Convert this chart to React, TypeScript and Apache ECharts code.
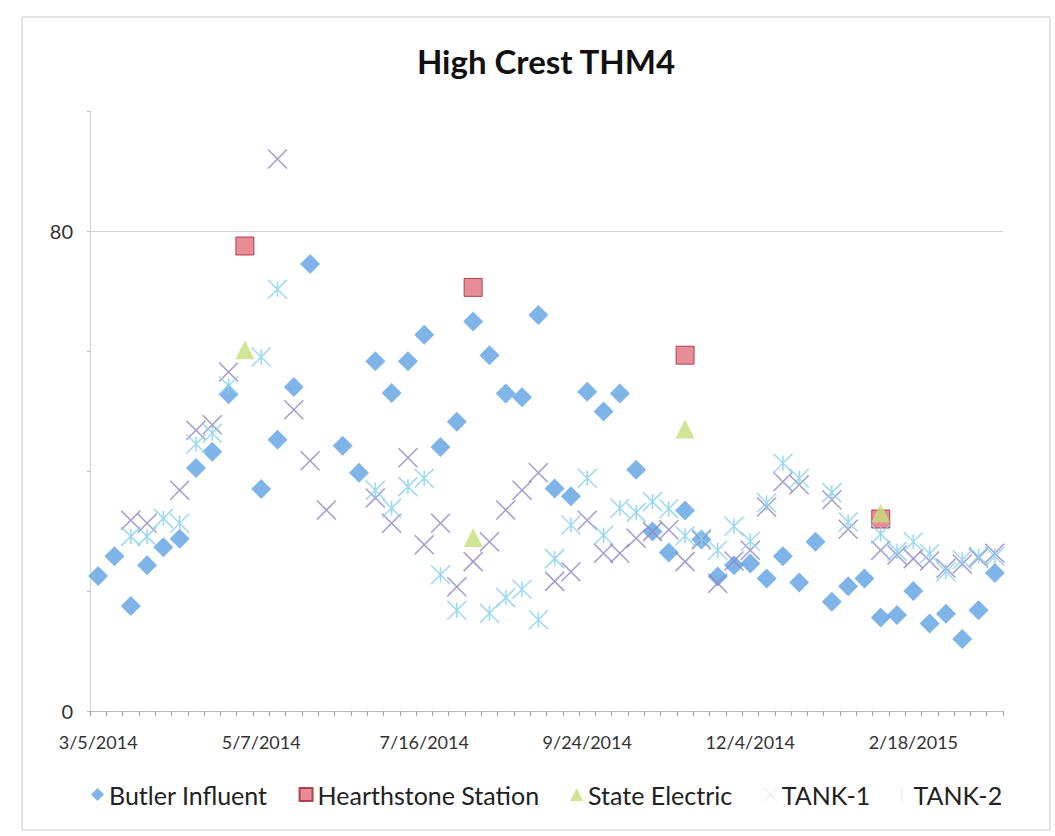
import React, { useEffect, useRef } from "react";
import * as echarts from "echarts";

const categories = [
  "3/5/2014", "3/12/2014", "3/19/2014", "3/26/2014", "4/2/2014", "4/9/2014", "4/16/2014", "4/23/2014", "4/30/2014", "5/5/2014",
  "5/7/2014", "5/14/2014", "5/21/2014", "5/28/2014", "6/4/2014", "6/11/2014", "6/18/2014", "6/25/2014", "7/2/2014", "7/9/2014",
  "7/16/2014", "7/23/2014", "7/30/2014", "8/6/2014", "8/13/2014", "8/20/2014", "8/27/2014", "9/3/2014", "9/10/2014", "9/17/2014",
  "9/24/2014", "10/1/2014", "10/8/2014", "10/15/2014", "10/22/2014", "10/29/2014", "11/5/2014", "11/12/2014", "11/19/2014", "11/26/2014",
  "12/4/2014", "12/11/2014", "12/18/2014", "12/24/2014", "12/31/2014", "1/7/2015", "1/14/2015", "1/21/2015", "1/28/2015", "2/11/2015",
  "2/18/2015", "2/25/2015", "3/4/2015", "3/11/2015", "3/18/2015", "3/25/2015",
];

const butlerInfluent = [
  22.5, 25.8, 17.5, 24.3, 27.3, 28.7, 40.5, 43.2, 52.8, null,
  37, 45.2, 54, 74.5, null, 44.2, 39.7, 58.3, 53, 58.3,
  62.7, 44, 48.2, 64.9, 59.3, 52.9, 52.3, 66, 37.1, 35.8,
  53.2, 49.9, 52.9, 40.2, 29.9, 26.4, 33.4, 28.6, 22.4, 24.3,
  24.6, 22.1, 25.8, 21.4, 28.2, 18.2, 20.8, 22.1, 15.6, 16,
  20, 14.6, 16.2, 12, 16.8, 23,
];

const hearthstoneStation = [
  null, null, null, null, null, null, null, null, null, 77.5,
  null, null, null, null, null, null, null, null, null, null,
  null, null, null, 70.6, null, null, null, null, null, null,
  null, null, null, null, null, null, 59.3, null, null, null,
  null, null, null, null, null, null, null, null, 32, null,
  null, null, null, null, null, null,
];

const stateElectric = [
  null, null, null, null, null, null, null, null, null, 60.2,
  null, null, null, null, null, null, null, null, null, null,
  null, null, null, 28.9, null, null, null, null, null, null,
  null, null, null, null, null, null, 47, null, null, null,
  null, null, null, null, null, null, null, null, 33, null,
  null, null, null, null, null, null,
];

const tank1 = [
  null, null, 31.8, 31.3, null, 36.8, 46.8, 47.7, 56.5, null,
  null, 92, 50.2, 41.7, 33.5, null, null, 35.5, 31.3, 42.2,
  27.7, 31.3, 20.7, 24.9, 28.2, 33.5, 36.8, 39.7, 21.6, 23.2,
  31.8, 26.3, 26.3, 28.8, 29.9, 30.2, 24.9, 28.5, 21.3, 25,
  26.8, 34, 38.2, 37.7, null, 35.2, 30.3, null, 26.8, 26,
  25.4, 25, 23.8, 24.5, 25.5, 26.3,
];

const tank2 = [
  null, null, 29.1, 29.1, 32.1, 31.3, 44.5, 46.3, 54.2, null,
  59, 70.3, null, null, null, null, null, 36.8, 33.8, 37.4,
  38.8, 22.7, 16.8, null, 16.3, 18.9, 20.3, 15.2, 25.4, 31,
  38.8, 29.3, 33.8, 33.1, 34.9, 33.7, 29.2, 28.8, 26.8, 30.8,
  28.3, 34.7, 41.3, 38.8, null, 36.4, 31.5, null, 29.5, 26.6,
  28.2, 26.2, 23.2, 25.2, 25.8, 25.8,
];

const yLabels = [0, 80];
const gridValue = 80;

const X_PATH = "path://M0,0L20,20M20,0L0,20";
const STAR_PATH = "path://M0,0L20,20M20,0L0,20M10,2L10,18";
const X_ICON = "path://M0,0L10,10M10,0L0,10";
const BAR_ICON = "path://M0,0L1,0L1,10L0,10Z";

const FONT = "Lato, 'Open Sans', sans-serif";

export default function App() {
  const ref = useRef<HTMLDivElement>(null);

  useEffect(() => {
    if (!ref.current) return;
    const chart = echarts.init(ref.current, null, { renderer: "svg" });
    chart.setOption({
      animation: false,
      backgroundColor: "#ffffff",
      textStyle: { fontFamily: FONT },
      graphic: [
        {
          type: "rect",
          shape: { x: 22, y: 17, width: 1028, height: 813 },
          style: { fill: "none", stroke: "#c8c8c8", lineWidth: 1 },
          silent: true,
        },
        {
          type: "text",
          x: 546,
          y: 44,
          style: {
            text: "High Crest THM4",
            font: `bold 33px ${FONT}`,
            fill: "#111111",
            textAlign: "center",
          },
        },
      ],
      legend: {
        top: 777,
        left: 86,
        itemGap: 31,
        itemWidth: 13,
        itemHeight: 13,
        textStyle: { fontSize: 25, color: "#222222", fontFamily: FONT },
        data: [
          { name: "Butler Influent", icon: "diamond" },
          { name: "Hearthstone Station", icon: "rect" },
          { name: "State Electric", icon: "triangle" },
          {
            name: "TANK-1",
            icon: X_ICON,
            itemStyle: { color: "rgba(0,0,0,0)", borderColor: "#dcdce6", borderWidth: 1 },
          },
          {
            name: "TANK-2",
            icon: BAR_ICON,
            itemStyle: { color: "#dfe6ea", borderColor: "rgba(0,0,0,0)", borderWidth: 0 },
          },
        ],
      },
      grid: { left: 90, right: 52, top: 111, bottom: 125 },
      xAxis: {
        type: "category",
        data: categories,
        boundaryGap: true,
        axisLine: { show: true, lineStyle: { color: "#bdbdbd", width: 1 } },
        axisTick: { show: true, interval: 0, length: 5, lineStyle: { color: "#a0a0a0" } },
        axisLabel: { interval: 9, fontSize: 18, color: "#333333", margin: 22, fontFamily: FONT },
        splitLine: { show: false },
      },
      yAxis: {
        type: "value",
        min: 0,
        max: 100,
        interval: 20,
        axisLine: { show: true, lineStyle: { color: "#cfcfcf", width: 1 } },
        axisTick: { show: true, length: 3, lineStyle: { color: "#bdbdbd" } },
        axisLabel: {
          fontSize: 20,
          color: "#333333",
          margin: 17,
          fontFamily: FONT,
          formatter: (v: number) => (yLabels.includes(v) ? String(v) : ""),
        },
        splitLine: { show: false },
      },
      series: [
        {
          name: "Butler Influent",
          type: "scatter",
          data: butlerInfluent,
          symbol: "diamond",
          symbolSize: 20,
          itemStyle: { color: "#5FA1E2" },
          markLine: {
            silent: true,
            symbol: ["none", "none"],
            label: { show: false },
            lineStyle: { color: "#d4d4d4", width: 1, type: "solid" },
            data: [{ yAxis: gridValue }],
          },
        },
        {
          name: "Hearthstone Station",
          type: "scatter",
          data: hearthstoneStation,
          symbol: "rect",
          symbolSize: 18,
          itemStyle: { color: "#E2707E", borderColor: "#9E2433", borderWidth: 1 },
        },
        {
          name: "State Electric",
          type: "scatter",
          data: stateElectric,
          symbol: "triangle",
          symbolSize: [19, 19],
          itemStyle: { color: "#C6DF7C" },
        },
        {
          name: "TANK-1",
          type: "scatter",
          data: tank1,
          symbol: X_PATH,
          symbolSize: 19,
          itemStyle: { color: "rgba(0,0,0,0)", borderColor: "#8F84C6", borderWidth: 1.6 },
        },
        {
          name: "TANK-2",
          type: "scatter",
          data: tank2,
          symbol: STAR_PATH,
          symbolSize: 19,
          itemStyle: { color: "rgba(0,0,0,0)", borderColor: "#86D0EC", borderWidth: 1.6 },
        },
      ],
    });
    return () => chart.dispose();
  }, []);

  return (
    <div
      ref={ref}
      style={{ position: "fixed", left: 0, top: 0, width: 1055, height: 836, background: "#fff" }}
    />
  );
}
